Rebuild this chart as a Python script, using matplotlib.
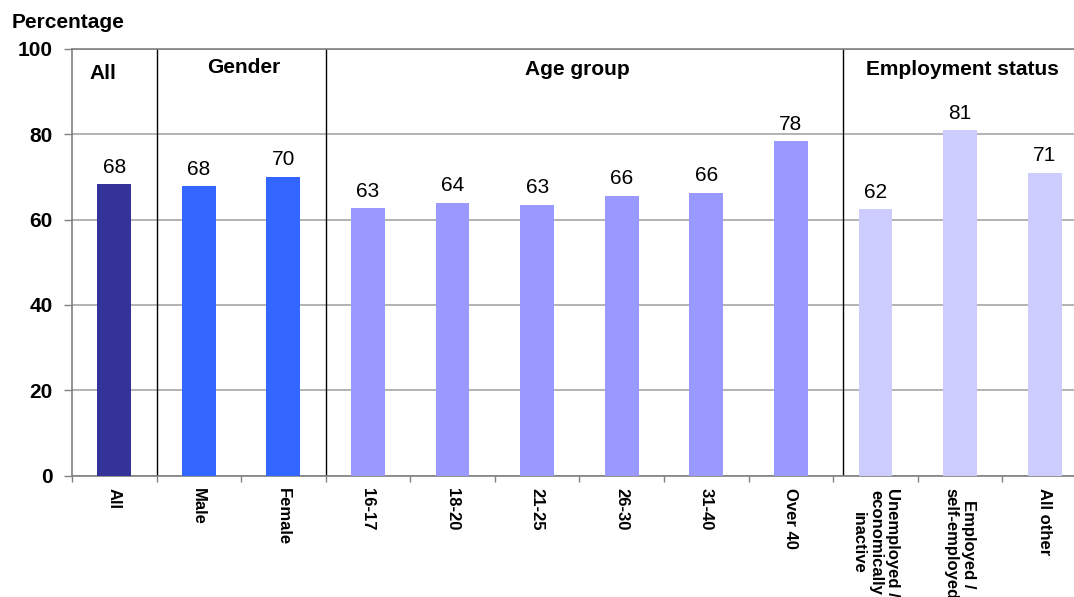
import matplotlib
matplotlib.use("Agg")
import matplotlib.pyplot as plt

plt.rcParams['font.family'] = ['Liberation Sans', 'DejaVu Sans']

categories = ['All', 'Male', 'Female', '16-17', '18-20', '21-25', '26-30',
              '31-40', 'Over 40', 'Unemployed /\neconomically\ninactive',
              'Employed /\nself-employed', 'All other']
values = [68.2, 67.8, 70.0, 62.6, 63.9, 63.4, 65.6, 66.3, 78.3, 62.4, 80.9, 70.9]
groups = ['All', 'Gender', 'Gender', 'Age', 'Age', 'Age', 'Age', 'Age', 'Age',
          'Emp', 'Emp', 'Emp']
group_colors = {'All': '#333399', 'Gender': '#3366FF', 'Age': '#9999FF', 'Emp': '#CCCCFF'}
group_titles = ['All', 'Gender', 'Age group', 'Employment status']
group_title_x = [-0.13, 1.53, 5.48, 10.03]
group_title_y = [94.2, 95.6, 95.2, 95.2]
separators = [0.5, 2.5, 8.62]

fig = plt.figure(figsize=(10.74, 5.97), dpi=100)
ax = fig.add_axes([0.067, 0.2032, 0.945, 0.7152])

x = list(range(len(categories)))
colors = [group_colors[g] for g in groups]
ax.bar(x, values, width=0.4, color=colors, zorder=3)

for xi, v in zip(x, values):
    ax.text(xi, v + 1.8, f"{v:.0f}", ha='center', va='bottom', fontsize=15, zorder=4)

for t, tx, ty in zip(group_titles, group_title_x, group_title_y):
    ax.text(tx, ty, t, ha='center', va='center', fontsize=15, fontweight='bold')

for s in separators:
    ax.axvline(s, color='black', lw=1.0, zorder=2)

ax.set_xlim(-0.5, 11.5)
ax.set_ylim(0, 100)
ax.set_yticks([0, 20, 40, 60, 80, 100])
ax.set_yticklabels(['0', '20', '40', '60', '80', '100'], fontsize=15, fontweight='bold')
ax.yaxis.grid(True, color='#A6A6A6', lw=1.2, zorder=0)
ax.tick_params(axis='y', length=6, width=1, color='#808080', pad=8)

ax.set_xticks([i - 0.5 for i in range(len(categories))])
ax.set_xticklabels([])
ax.set_xticks(x, minor=True)
ax.set_xticklabels(categories, minor=True, rotation=-90, fontsize=12,
                   fontweight='bold', ha='center', va='top', multialignment='center')
ax.tick_params(axis='x', which='major', length=4, width=1, color='#808080')
ax.tick_params(axis='x', which='minor', length=0, pad=9)

for side in ['left', 'bottom', 'top', 'right']:
    ax.spines[side].set_color('#808080')
    ax.spines[side].set_linewidth(1.2)

fig.text(0.011, 0.963, 'Percentage', fontsize=15, fontweight='bold', ha='left', va='center')

fig.savefig('out.png', dpi=100)
